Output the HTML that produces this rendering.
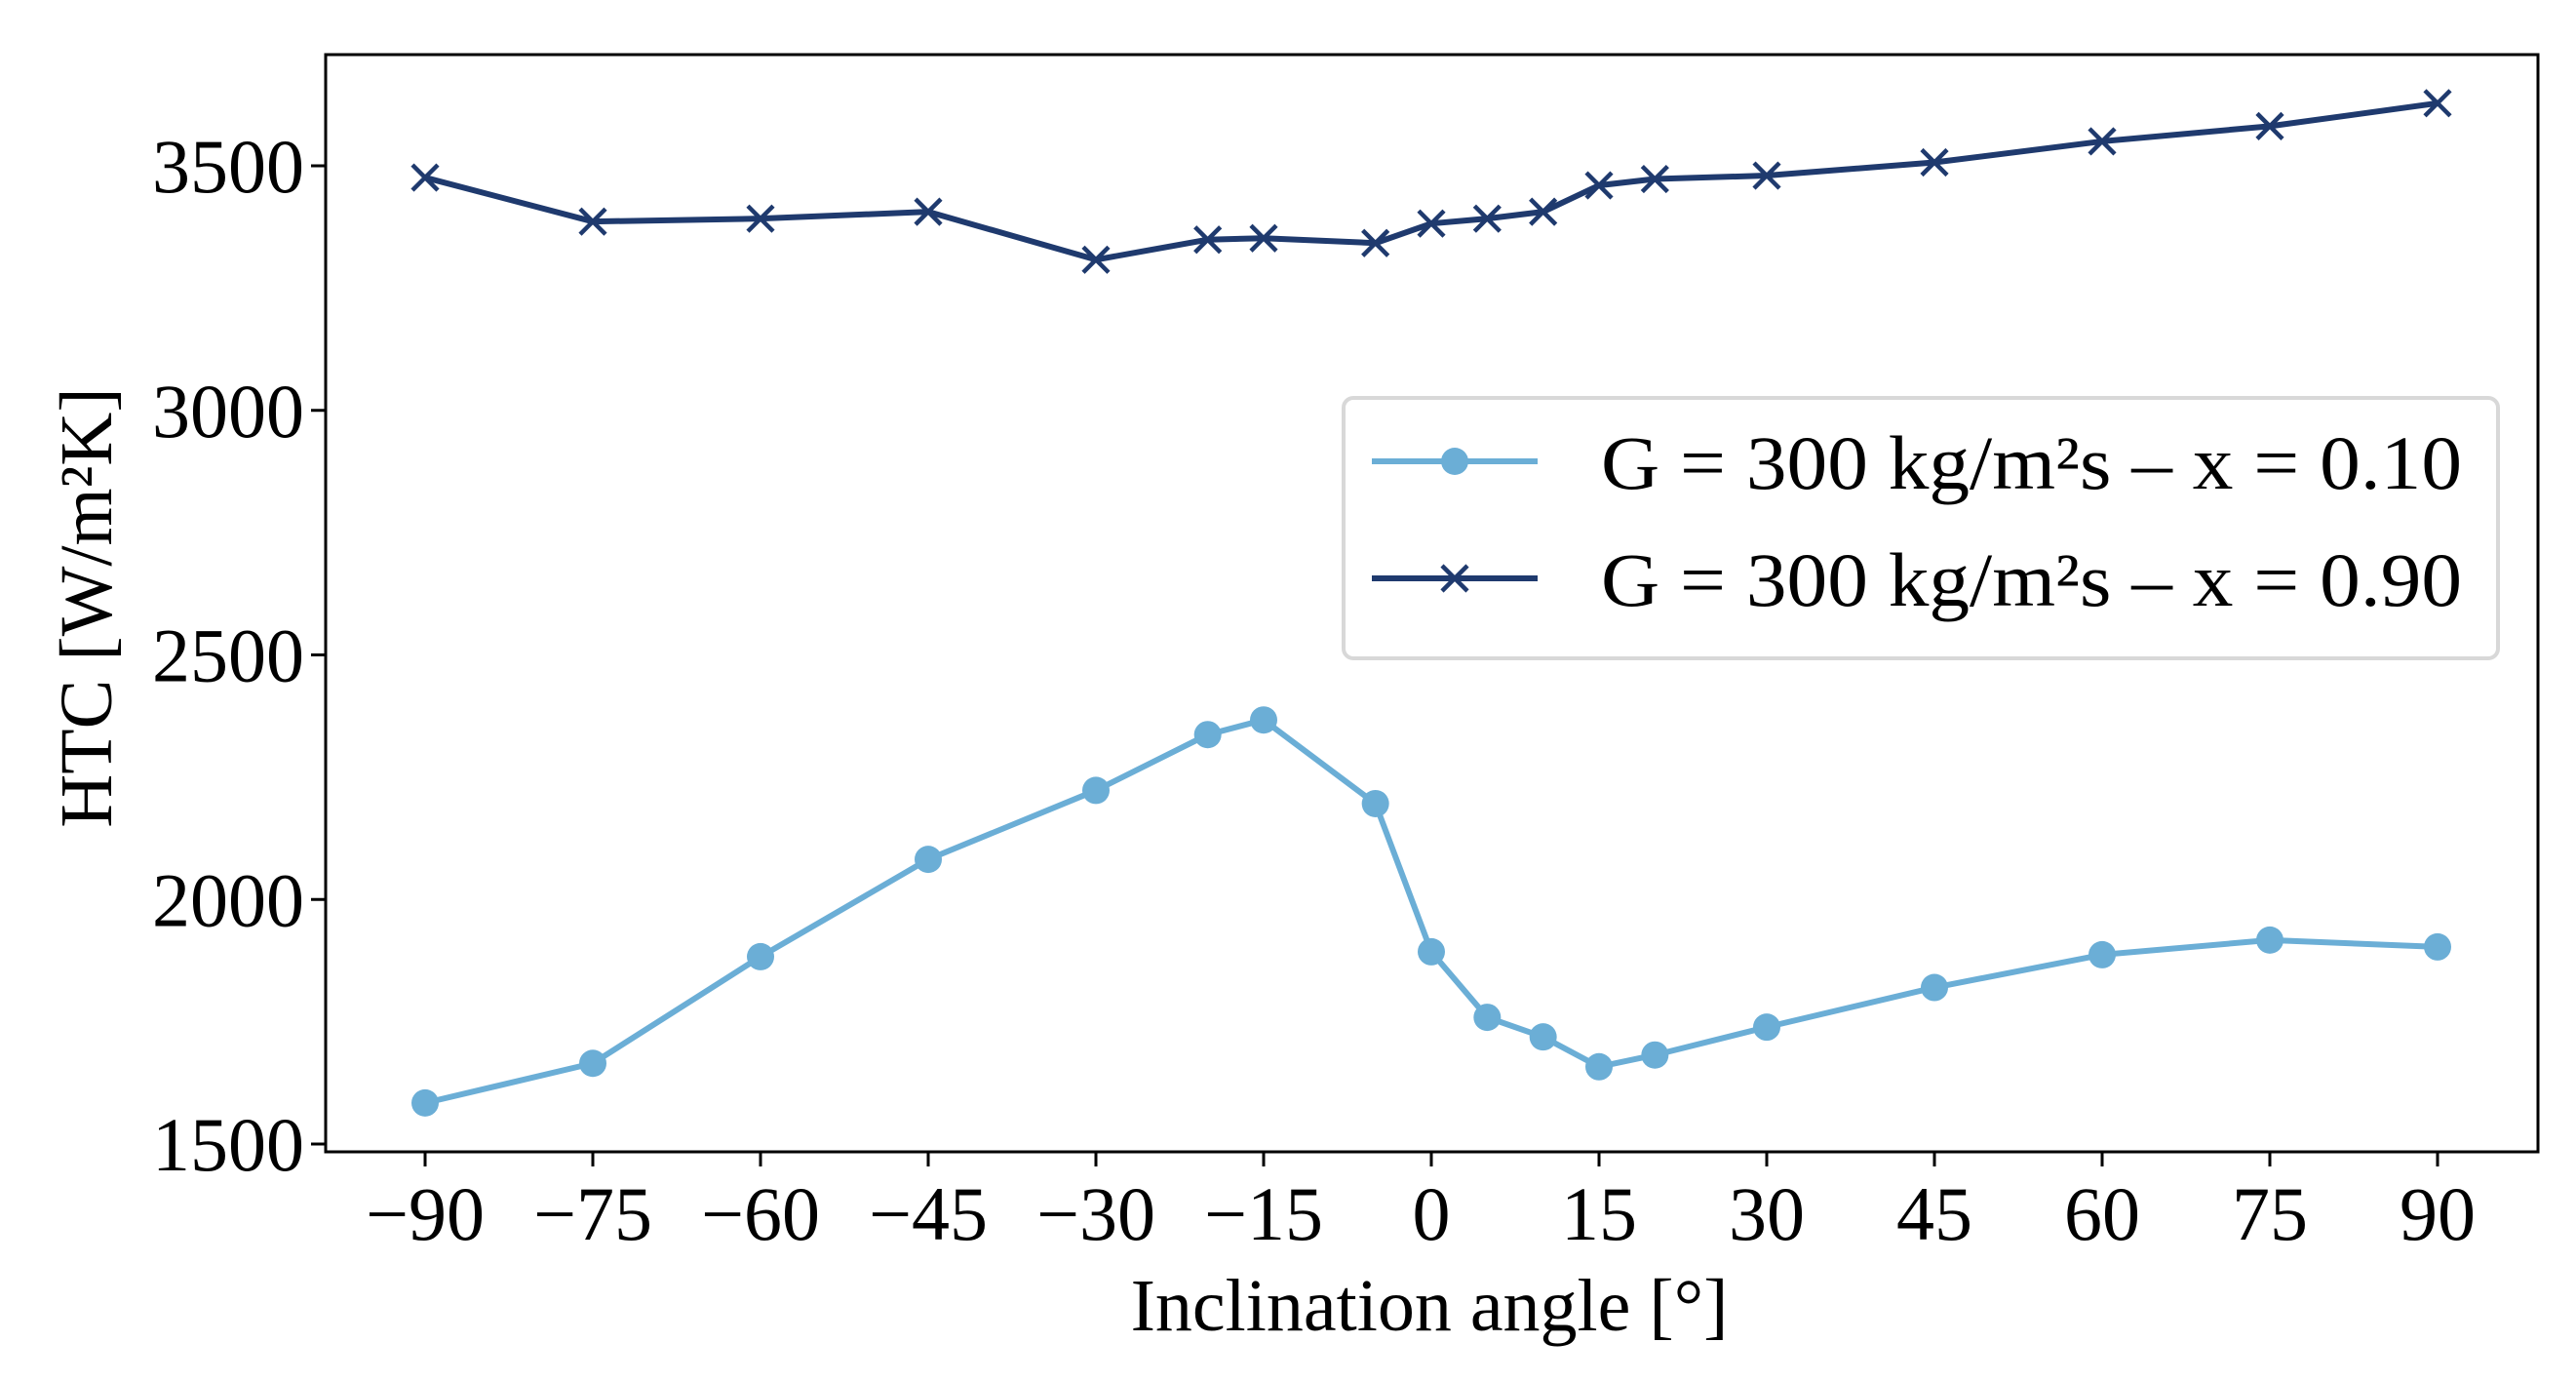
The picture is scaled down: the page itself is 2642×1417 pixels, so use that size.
<!DOCTYPE html>
<html><head><meta charset="utf-8"><style>
html,body{margin:0;padding:0;background:#fff;}
svg{display:block;font-family:"Liberation Serif",serif;}
</style></head><body>
<svg id="chart" width="2642" height="1417" viewBox="0 0 2642 1417">
<rect x="0" y="0" width="2642" height="1417" fill="#fff"/>
<g id="plot"></g>
</svg>
<script>
const angles = [-90,-75,-60,-45,-30,-20,-15,-5,0,5,10,15,20,30,45,60,75,90];
const htcLow = [1584,1665,1883,2082,2223,2337,2367,2196,1893,1759,1719,1658,1682,1739,1820,1887,1917,1903];
const htcHigh = [3476,3386,3392,3406,3308,3349,3352,3342,3382,3392,3406,3460,3473,3480,3507,3550,3581,3628];
const xTicks = [-90,-75,-60,-45,-30,-15,0,15,30,45,60,75,90];
const yTicks = [1500,2000,2500,3000,3500];
const legendLabels = ["G = 300 kg/m\u00B2s \u2013 x = 0.10","G = 300 kg/m\u00B2s \u2013 x = 0.90"];

const NS="http://www.w3.org/2000/svg";
const L=334,R=2603,T=56,B=1181;
const xs=v=>436+(v+90)*(2500-436)/180;
const ys=v=>1173-(v-1500)*(1173-170)/2000;
const g=document.getElementById('plot');
function mk(tag,attrs,parent){const e=document.createElementNS(NS,tag);for(const k in attrs)e.setAttribute(k,attrs[k]);(parent||g).appendChild(e);return e;}
const light="#6baed6",dark="#1f3a6e";

const frame=mk('rect',{x:L,y:T,width:R-L,height:B-T,fill:'none',stroke:'#000','stroke-width':3});



xTicks.forEach(t=>{
  const ln=mk('line',{x1:xs(t),x2:xs(t),y1:B,y2:B+15,stroke:'#000','stroke-width':3});
  
  
  const tx=mk('text',{x:xs(t),y:1271,'text-anchor':'middle','font-size':78,fill:'#000'});
  tx.textContent=t<0?'\u2212'+(-t):String(t);
  
  
});
yTicks.forEach(t=>{
  const ln=mk('line',{x1:L-15,x2:L,y1:ys(t),y2:ys(t),stroke:'#000','stroke-width':3});
  
  
  const tx=mk('text',{x:L-22,y:ys(t)+27,'text-anchor':'end','font-size':78,fill:'#000'});
  tx.textContent=String(t);
  
  
});

const xl=mk('text',{x:1466,y:1364,'text-anchor':'middle','font-size':76,fill:'#000'});
xl.textContent='Inclination angle [\u00B0]';


const yl=mk('text',{x:0,y:0,'text-anchor':'middle','font-size':76,fill:'#000',transform:'translate(114,623) rotate(-90)'});
yl.textContent='HTC [W/m\u00B2K]';



function series(vals,color,name){
  const pts=vals.map((v,i)=>xs(angles[i])+','+ys(v)).join(' ');
  const pl=mk('polyline',{points:pts,fill:'none',stroke:color,'stroke-width':6,'stroke-linejoin':'round'});
  
  
}
series(htcLow,light,'x010');
series(htcHigh,dark,'x090');
function dot(x,y,parent){const c=mk('circle',{cx:x,cy:y,r:14,fill:light},parent);return c;}
function cross(x,y,parent){const p=mk('path',{d:`M${x-13},${y-13}L${x+13},${y+13}M${x-13},${y+13}L${x+13},${y-13}`,stroke:dark,'stroke-width':4.5,fill:'none'},parent);return p;}
htcLow.forEach((v,i)=>{const c=dot(xs(angles[i]),ys(v));
  
  });
htcHigh.forEach((v,i)=>{const c=cross(xs(angles[i]),ys(v));
  
  });

const lg=mk('g',{});


mk('rect',{x:1378,y:408,width:1184,height:267,rx:10,fill:'#fff','fill-opacity':0.85,stroke:'#d8d8d8','stroke-width':4},lg);
[473,593].forEach((yy,i)=>{
  const e=mk('g',{},lg);
  
  
  mk('line',{x1:1407,x2:1577,y1:yy,y2:yy,stroke:i?dark:light,'stroke-width':6},e);
  if(i)cross(1492,yy,e);else dot(1492,yy,e);
  const t=mk('text',{x:1642,y:yy+28,'font-size':78,fill:'#000',textLength:883,lengthAdjust:'spacingAndGlyphs'},e);
  t.textContent=legendLabels[i];
});
</script>
</body></html>
